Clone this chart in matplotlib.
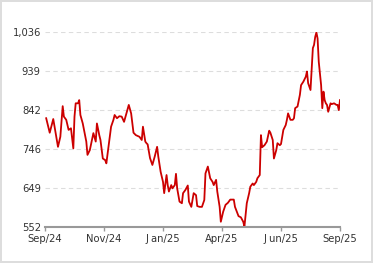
import matplotlib
matplotlib.use("Agg")
import matplotlib.pyplot as plt

# trading-day index and value
days = [1, 4, 7, 11, 13, 15, 16, 18, 20, 22, 24, 25, 26, 28, 29, 30, 32, 35, 36, 38,
        41, 43, 44, 46, 47, 49, 51, 52, 54, 56, 58, 59, 61, 63, 65, 67, 69, 71, 73, 75,
        77, 80, 82, 83, 85, 86, 87, 89, 91, 93, 95, 96, 98, 100, 101, 103, 104, 105, 107, 108,
        110, 111, 112, 114, 116, 117, 119, 121, 122, 124, 126, 128, 129, 131, 133, 135, 136, 138, 140, 142,
        143, 145, 146, 148, 149, 151, 153, 155, 157, 160, 161, 164, 166, 168, 169, 171, 173, 174, 176, 177,
        179, 180, 182, 183, 184, 186, 188, 190, 191, 193, 194, 196, 197, 199, 200, 202, 204, 205, 206, 208,
        210, 211, 212, 214, 216, 217, 219, 221, 222, 223, 225, 226, 227, 228, 229, 230, 231, 232, 234, 235,
        236, 237, 238, 239, 240, 242, 243, 245, 247, 248, 249, 250]
values = [822, 786, 820, 751, 776, 852, 826, 818, 793, 797, 747, 826, 859, 859, 867, 830, 809, 764, 731, 743,
          785, 764, 809, 780, 768, 722, 718, 710, 755, 801, 818, 830, 822, 827, 826, 813, 834, 855, 834, 786,
          780, 776, 768, 801, 764, 760, 757, 723, 706, 727, 751, 727, 689, 664, 636, 681, 656, 640, 656, 648,
          656, 684, 648, 615, 611, 636, 644, 655, 615, 602, 636, 631, 604, 602, 602, 619, 685, 702, 673, 664,
          656, 669, 640, 602, 565, 590, 607, 612, 620, 620, 602, 579, 576, 565, 553, 611, 636, 652, 660, 656,
          664, 673, 681, 780, 750, 755, 764, 791, 786, 768, 722, 743, 760, 755, 758, 793, 805, 818, 834, 818,
          818, 822, 847, 851, 880, 904, 913, 925, 938, 909, 892, 946, 996, 1004, 1024, 1035, 1020, 962, 904, 847,
          888, 867, 859, 855, 838, 859, 857, 859, 855, 855, 842, 867]

tick_pos = [0, 50, 100, 150, 200, 250]
tick_labels = ["Sep/24", "Nov/24", "J an/25", "Apr/25", "J un/25", "Sep/25"]
y_ticks = [552, 649, 746, 842, 939, 1036]
y_labels = ["552", "649", "746", "842", "939", "1,036"]

fig = plt.figure(figsize=(3.73, 2.63), dpi=100, linewidth=1.5, edgecolor="#dddddd")
ax = fig.add_axes([45/373, 36/263, 295/373, 195/263])

ax.plot(days, values, color="#cc0000", linewidth=1.3)

ax.set_xlim(0, 250)
ax.set_ylim(552, 1036)
ax.set_xticks(tick_pos)
ax.set_xticklabels(tick_labels)
ax.set_yticks(y_ticks)
ax.set_yticklabels(y_labels)

for s in ["top", "right", "left"]:
    ax.spines[s].set_visible(False)
ax.spines["bottom"].set_color("#999999")
ax.spines["bottom"].set_linewidth(1.5)

ax.tick_params(axis="x", length=3, width=1, color="#999999", pad=2, labelsize=7.2, labelcolor="#333333")
ax.tick_params(axis="y", length=0, pad=3, labelsize=7.2, labelcolor="#333333")

ax.grid(axis="y", color="#dddddd", linestyle=(0, (4, 3)), linewidth=0.8)
ax.set_axisbelow(True)
ax.patch.set_visible(False)

fig.savefig("out.png", dpi=100)
